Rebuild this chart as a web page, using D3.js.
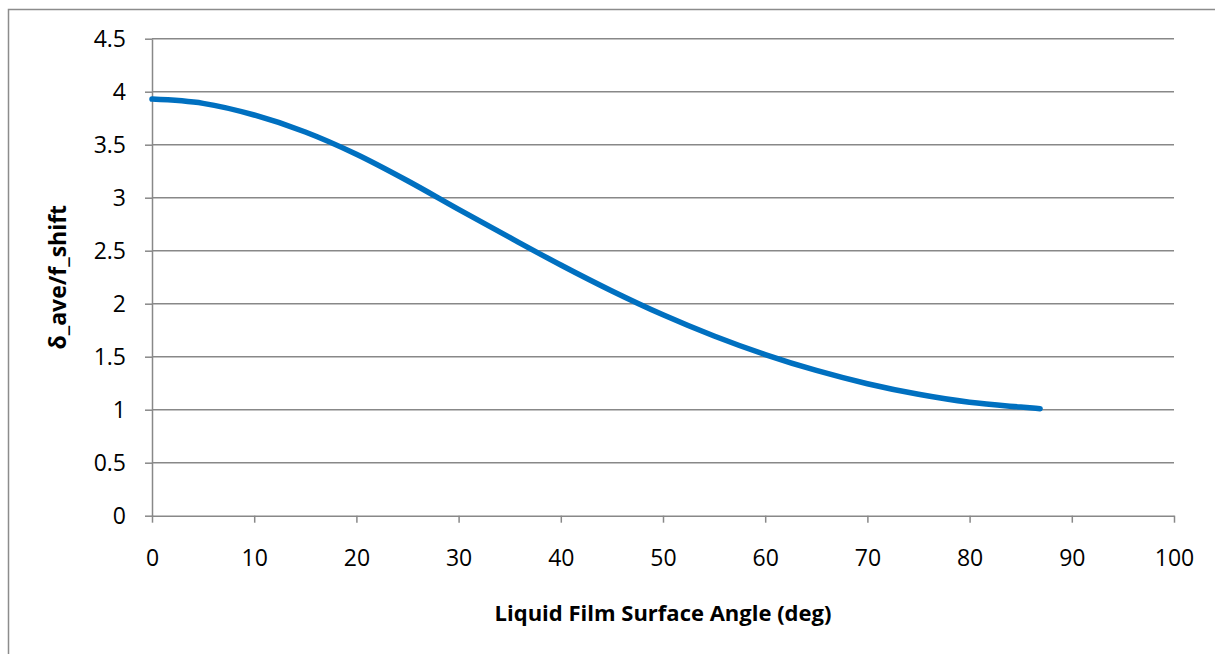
<!DOCTYPE html>
<html>
<head>
<meta charset="utf-8">
<script src="https://cdn.jsdelivr.net/npm/d3@7"></script>
<style>
  body { margin: 0; background: #fff; overflow: hidden; }
  svg text { font-family: "Open Sans", "Noto Sans", sans-serif; fill: #000; }
</style>
</head>
<body>
<div id="chart"></div>
<script>
// curve
var angle = [0, 5, 10, 15, 20, 25, 30, 35, 40, 45, 50, 55, 60, 65, 70, 75, 80, 85, 86.9];
var ratio = [3.93, 3.89, 3.78, 3.62, 3.41, 3.16, 2.89, 2.625, 2.365, 2.12, 1.895, 1.695, 1.52, 1.37, 1.245, 1.145, 1.07, 1.025, 1.01];
var xTicks = [0, 10, 20, 30, 40, 50, 60, 70, 80, 90, 100];
var yTicks = [0, 0.5, 1, 1.5, 2, 2.5, 3, 3.5, 4, 4.5];

var width = 1215, height = 654;
var plotL = 152, plotR = 1174, plotT = 38.7, plotB = 515.7;

var svg = d3.select('#chart').append('svg').attr('width', width).attr('height', height);

// outer frame (runs off the right and bottom edges)
svg.append('rect')
  .attr('x', 8.5).attr('y', 9.5).attr('width', 1230).attr('height', 660)
  .attr('fill', 'none').attr('stroke', '#8c8c8c').attr('stroke-width', 1.5);

var x = d3.scaleLinear().domain([0, 100]).range([plotL, plotR]);
var y = d3.scaleLinear().domain([0, 4.5]).range([plotB, plotT]);

// horizontal gridlines
svg.append('g').selectAll('line').data(yTicks.filter(function(d){ return d > 0; }))
  .enter().append('line')
  .attr('x1', plotL).attr('x2', plotR)
  .attr('y1', function(d){ return y(d); }).attr('y2', function(d){ return y(d); })
  .attr('stroke', '#888').attr('stroke-width', 1.5);

var yAxis = svg.append('g').attr('transform', 'translate(' + plotL + ',0)')
  .call(d3.axisLeft(y).tickValues(yTicks).tickSize(7).tickPadding(19).tickSizeOuter(0).tickFormat(function(d){ return d; }));
var xAxis = svg.append('g').attr('transform', 'translate(0,' + plotB + ')')
  .call(d3.axisBottom(x).tickValues(xTicks).tickSize(7).tickPadding(27).tickSizeOuter(0));

[yAxis, xAxis].forEach(function(g){
  g.select('.domain').attr('stroke', '#888').attr('stroke-width', 1.5);
  g.selectAll('.tick line').attr('stroke', '#888').attr('stroke-width', 1.5);
  g.selectAll('.tick text').style('font-size', '23px').attr('fill', '#000');
});

var pts = angle.map(function(a, i){ return [a, ratio[i]]; });
var line = d3.line()
  .x(function(d){ return x(d[0]); })
  .y(function(d){ return y(d[1]); })
  .curve(d3.curveMonotoneX);

svg.append('path').datum(pts)
  .attr('d', line)
  .attr('fill', 'none')
  .attr('stroke', '#0070c0')
  .attr('stroke-width', 5.5)
  .attr('stroke-linecap', 'round');

svg.append('text')
  .attr('x', (plotL + plotR) / 2).attr('y', 621)
  .attr('text-anchor', 'middle')
  .style('font-size', '22px').style('font-weight', 'bold')
  .text('Liquid Film Surface Angle (deg)');

svg.append('text')
  .attr('transform', 'translate(66,' + ((plotT + plotB) / 2) + ') rotate(-90)')
  .attr('text-anchor', 'middle')
  .style('font-size', '23px').style('font-weight', 'bold')
  .text('δ_ave/f_shift');
</script>
</body>
</html>
